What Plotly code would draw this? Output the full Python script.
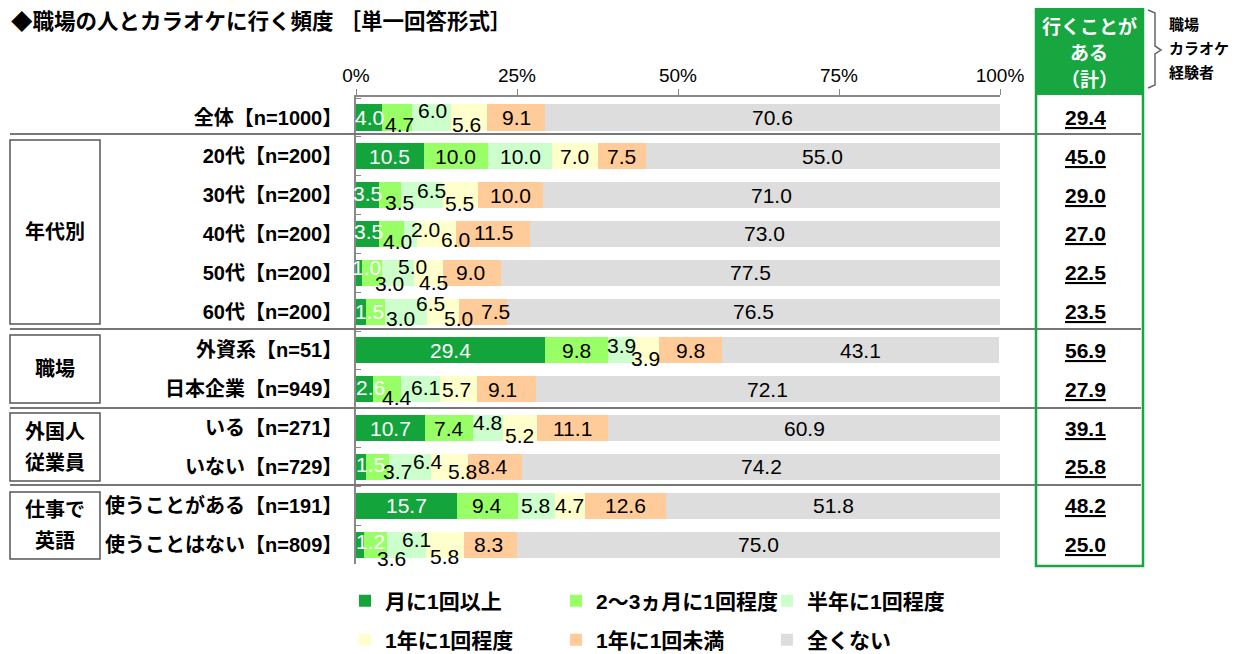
import plotly.graph_objects as go

# ---------------- data ----------------
categories = ["全体【n=1000】", "20代【n=200】", "30代【n=200】", "40代【n=200】",
              "50代【n=200】", "60代【n=200】", "外資系【n=51】", "日本企業【n=949】",
              "いる【n=271】", "いない【n=729】", "使うことがある【n=191】", "使うことはない【n=809】"]
series_names = ["月に1回以上", "2～3ヵ月に1回程度", "半年に1回程度",
                "1年に1回程度", "1年に1回未満", "全くない"]
monthly = [4.0, 10.5, 3.5, 3.5, 1.0, 1.5, 29.4, 2.6, 10.7, 1.5, 15.7, 1.2]
every_2_3_months = [4.7, 10.0, 3.5, 4.0, 3.0, 3.0, 9.8, 4.4, 7.4, 3.7, 9.4, 3.6]
half_year = [6.0, 10.0, 6.5, 2.0, 5.0, 6.5, 3.9, 6.1, 4.8, 6.4, 5.8, 6.1]
once_year = [5.6, 7.0, 5.5, 6.0, 4.5, 5.0, 3.9, 5.7, 5.2, 5.8, 4.7, 5.8]
less_than_year = [9.1, 7.5, 10.0, 11.5, 9.0, 7.5, 9.8, 9.1, 11.1, 8.4, 12.6, 8.3]
never = [70.6, 55.0, 71.0, 73.0, 77.5, 76.5, 43.1, 72.1, 60.9, 74.2, 51.8, 75.0]
experienced_total = [29.4, 45.0, 29.0, 27.0, 22.5, 23.5, 56.9, 27.9, 39.1, 25.8, 48.2, 25.0]
tick_values = [0, 25, 50, 75, 100]
tick_labels = ["0%", "25%", "50%", "75%", "100%"]
group_labels = [["年代別"], ["職場"], ["外国人", "従業員"], ["仕事で", "英語"]]
title_text = "◆職場の人とカラオケに行く頻度 ［単一回答形式］"
header_lines = ["行くことが", "ある", "（計）"]
bracket_lines = ["職場", "カラオケ", "経験者"]

# ---------------- styles ----------------
series = [monthly, every_2_3_months, half_year, once_year, less_than_year, never]
colors = ["#14A43C", "#99FF66", "#CCFFCC", "#FFFFCC", "#FFCC99", "#DDDDDD"]
label_colors = ["white", "black", "black", "black", "black", "black"]
# manual label nudges (px): (dx, dy) ; dy positive = down
label_nudges = [
    [(1, 0), (3, 7), (1, -7), (-2, 7), (0, 0), (0, 0)],
    [(0, 0)] * 6,
    [(0, -2), (10, 7), (9, -5), (-1, 8), (0, 0), (0, 0)],
    [(1, -2), (6, 8), (15, -4), (19, 6), (1, -1), (0, 0)],
    [(7, -5), (17, 11), (15, -6), (5, 10), (-1, 0), (0, 0)],
    [(9, 0), (25, 7), (25, -8), (16, 7), (12, 0), (0, 0)],
    [(0, 0), (0, 0), (0, -5), (-1, 8), (0, 0), (0, 0)],
    [(6, -2), (10, 8), (5, -2), (-2, 0), (-4, 0), (0, 0)],
    [(0, 0), (0, 0), (-1, -6), (-1, 7), (0, 0), (0, 0)],
    [(10, -2), (20, 5), (18, -5), (13, 5), (-2, 0), (0, 0)],
    [(0, 0), (0, 0), (-1, 0), (-1, 0), (0, 0), (0, 0)],
    [(11, -3), (16, 14), (10, -5), (0, 12), (-2, 0), (0, 0)],
]
FONT = "Liberation Sans, Arial, Noto Sans CJK JP, sans-serif"
GREEN = "#17A640"
OFF = 8  # page body margin
W, H = 1238 - OFF, 654 - OFF
PW, PH = 644, 467
L, T = 356 - OFF, 97 - OFF
R, B = W - L - PW, H - T - PH


def px(x):
    return (x - OFF - L) / PW


def py(y):
    return (H - B - (y - OFF)) / PH


fig = go.Figure()
for i, (name, vals) in enumerate(zip(series_names, series)):
    fig.add_trace(go.Bar(
        y=categories, x=vals, name=name, orientation="h",
        marker=dict(color=colors[i], line=dict(width=0)),
        width=0.67, legend="legend" if i < 3 else "legend2",
        hoverinfo="x+y+name",
    ))

annotations = []
# segment labels
for r, cat in enumerate(categories):
    cum = 0.0
    for s, vals in enumerate(series):
        v = vals[r]
        dx, dy = label_nudges[r][s]
        annotations.append(dict(
            x=cum + v / 2, y=cat, xref="x", yref="y", text=f"{v:.1f}",
            showarrow=False, xshift=dx, yshift=-dy, xanchor="center", yanchor="middle",
            font=dict(family=FONT, size=21, color=label_colors[s])))
        cum += v
    # right column total
    annotations.append(dict(
        x=px(1085), y=cat, xref="paper", yref="y", text=f"{experienced_total[r]:.1f}",
        showarrow=False, xanchor="center", yanchor="middle",
        font=dict(family=FONT, size=21, color="black", weight="bold", lineposition="under")))

# title
annotations.append(dict(x=px(9), y=py(22), xref="paper", yref="paper", xanchor="left",
                        yanchor="middle", text=title_text, showarrow=False,
                        font=dict(family=FONT, size=21.5, color="black", weight="bold")))
# header
for i, t in enumerate(header_lines):
    annotations.append(dict(x=px(1089), y=py(27 + 26.5 * i), xref="paper", yref="paper",
                            text=t, showarrow=False, xanchor="center", yanchor="middle",
                            font=dict(family=FONT, size=19, color="white", weight="bold")))
for i, t in enumerate(bracket_lines):
    annotations.append(dict(x=px(1167), y=py(25 + 23.5 * i), xref="paper", yref="paper",
                            xanchor="left", yanchor="middle", text=t, showarrow=False,
                            font=dict(family=FONT, size=15, color="black", weight="bold")))

# group boxes
boxes = [(140, 324), (335, 403), (413, 481), (492, 559)]
shapes = []
for (y0, y1), lines in zip(boxes, group_labels):
    shapes.append(dict(type="rect", xref="paper", yref="paper", x0=px(10), x1=px(100),
                       y0=py(y0), y1=py(y1), line=dict(color="#555555", width=1.5)))
    c = (y0 + y1) / 2
    n = len(lines)
    for j, t in enumerate(lines):
        yy = c + (j - (n - 1) / 2) * 31
        annotations.append(dict(x=px(55), y=py(yy), xref="paper", yref="paper",
                                text=t, showarrow=False, xanchor="center", yanchor="middle",
                                font=dict(family=FONT, size=20, color="black", weight="bold")))

# separator lines
for yy in [134, 329, 408, 485]:
    shapes.append(dict(type="line", xref="paper", yref="paper", x0=px(10), x1=px(1141),
                       y0=py(yy), y1=py(yy), line=dict(color="#777777", width=2)))

# right column
shapes.append(dict(type="rect", xref="paper", yref="paper", x0=px(1036), x1=px(1143),
                   y0=py(7), y1=py(95), fillcolor=GREEN, line=dict(width=0)))
shapes.append(dict(type="rect", xref="paper", yref="paper", x0=px(1036), x1=px(1143),
                   y0=py(7), y1=py(566), line=dict(color=GREEN, width=2.5)))

# bracket
pts = [(1148, 10), (1155, 13), (1155, 46), (1161, 50), (1155, 54), (1155, 85), (1148, 88)]
path = "M " + " L ".join(f"{px(a):.5f},{py(b):.5f}" for a, b in pts)
shapes.append(dict(type="path", xref="paper", yref="paper", path=path,
                   line=dict(color="#666666", width=1.5)))

legend_common = dict(orientation="h", xanchor="left", yanchor="middle",
                     entrywidth=166, entrywidthmode="pixels", itemwidth=30,
                     font=dict(family=FONT, size=21, color="black", weight="bold"),
                     bgcolor="rgba(0,0,0,0)", traceorder="normal")

fig.update_layout(
    width=W, height=H, barmode="stack",
    margin=dict(l=L, r=R, t=T, b=B, autoexpand=False),
    paper_bgcolor="white", plot_bgcolor="white",
    showlegend=True,
    legend=dict(x=px(345), y=py(601), **legend_common),
    legend2=dict(x=px(345), y=py(640), **legend_common),
    xaxis=dict(side="top", range=[0, 100], tickvals=tick_values, ticktext=tick_labels,
               showgrid=False, zeroline=False, showline=True, linecolor="#888888",
               linewidth=1.5, ticks="outside", ticklen=6, tickcolor="#888888",
               tickfont=dict(family=FONT, size=19, color="black"), fixedrange=True),
    yaxis=dict(autorange="reversed", showgrid=False, showline=True, linecolor="#888888",
               linewidth=1.5, ticks="inside", ticklen=5, tickcolor="#888888",
               tickson="boundaries", ticklabelstandoff=8,
               tickfont=dict(family=FONT, size=20, color="black", weight="bold"),
               fixedrange=True),
    annotations=annotations, shapes=shapes,
)

fig.write_html("out.html")
